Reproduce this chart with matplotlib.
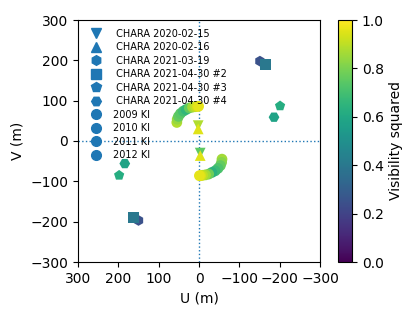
import matplotlib
matplotlib.use("Agg")
import matplotlib.pyplot as plt
import numpy as np
from matplotlib.lines import Line2D

# ---- data (u, v in metres, visibility squared) ----
chara_0215_u = [2, -3]
chara_0215_v = [38, -30]
chara_0215_vis = [0.88, 0.75]

chara_0216_u = [2, -3]
chara_0216_v = [30, -36]
chara_0216_vis = [0.95, 0.95]

chara_0319_u = [-151, 150]
chara_0319_v = [198, -197]
chara_0319_vis = [0.25, 0.25]

chara_0430_2_u = [-164, 162]
chara_0430_2_v = [190, -189]
chara_0430_2_vis = [0.40, 0.40]

chara_0430_3_u = [-201, 198]
chara_0430_3_v = [87, -85]
chara_0430_3_vis = [0.62, 0.62]

chara_0430_4_u = [-186, 184]
chara_0430_4_v = [59, -56]
chara_0430_4_vis = [0.58, 0.58]

ki2009_u = [55, 54, 51, -57, -56, -53]
ki2009_v = [46, 54, 61, -45, -53, -61]
ki2009_vis = [0.88, 0.84, 0.76, 0.86, 0.82, 0.76]

ki2010_u = [46, 39, 32, -47, -40, -32]
ki2010_v = [68, 74, 78, -68, -74, -78]
ki2010_vis = [0.74, 0.70, 0.66, 0.72, 0.68, 0.64]

ki2011_u = [24, 16, 9, -24, -16, -9]
ki2011_v = [82, 84, 85, -82, -84, -85]
ki2011_vis = [0.76, 0.86, 0.90, 0.78, 0.86, 0.90]

ki2012_u = [4, 1, -4, -1]
ki2012_v = [86, 86, -86, -86]
ki2012_vis = [0.94, 0.96, 0.94, 0.96]

series = [
    (" CHARA 2020-02-15", "v", chara_0215_u, chara_0215_v, chara_0215_vis),
    (" CHARA 2020-02-16", "^", chara_0216_u, chara_0216_v, chara_0216_vis),
    (" CHARA 2021-03-19", "h", chara_0319_u, chara_0319_v, chara_0319_vis),
    (" CHARA 2021-04-30 #2", "s", chara_0430_2_u, chara_0430_2_v, chara_0430_2_vis),
    (" CHARA 2021-04-30 #3", "p", chara_0430_3_u, chara_0430_3_v, chara_0430_3_vis),
    (" CHARA 2021-04-30 #4", "H", chara_0430_4_u, chara_0430_4_v, chara_0430_4_vis),
    ("2009 KI", "o", ki2009_u, ki2009_v, ki2009_vis),
    ("2010 KI", "o", ki2010_u, ki2010_v, ki2010_vis),
    ("2011 KI", "o", ki2011_u, ki2011_v, ki2011_vis),
    ("2012 KI", "o", ki2012_u, ki2012_v, ki2012_vis),
]

fig = plt.figure(figsize=(4.15, 3.18), dpi=100)
ax = fig.add_axes([78/415, 56/318, 242/415, 242/318])
cax = fig.add_axes([338/415, 56/318, 14/415, 242/318])

ax.axhline(0, color="C0", ls=":", lw=1.0, zorder=0)
ax.axvline(0, color="C0", ls=":", lw=1.0, zorder=0)

handles = []
sc = None
for label, mk, u, v, vis in series:
    sc = ax.scatter(u, v, c=vis, cmap="viridis", vmin=0, vmax=1, marker=mk, s=60,
                    edgecolors="none", zorder=2)
    handles.append(Line2D([], [], ls="none", marker=mk, color="C0", markersize=7,
                          label=label))

ax.set_xlim(300, -300)
ax.set_ylim(-300, 300)
ax.set_xticks([300, 200, 100, 0, -100, -200, -300])
ax.set_yticks([-300, -200, -100, 0, 100, 200, 300])
ax.set_xlabel("U (m)")
ax.set_ylabel("V (m)")
ax.legend(handles=handles, loc="upper left", frameon=False, fontsize=7,
          labelspacing=0.36, handletextpad=0.75, borderaxespad=0.5)

cb = fig.colorbar(sc, cax=cax)
cb.set_label("Visibility squared")

fig.savefig("out.png", dpi=100)
